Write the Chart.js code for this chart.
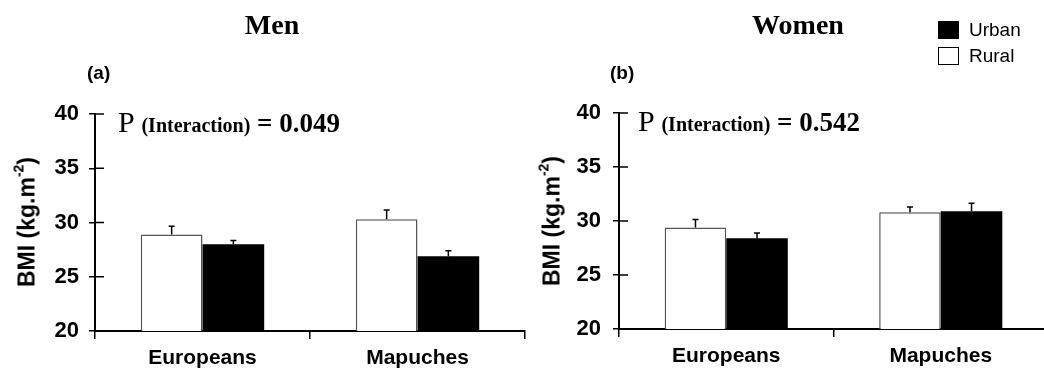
<!DOCTYPE html>
<html lang="en">
<head>
<meta charset="UTF-8">
<title>BMI by origin and residence</title>
<script src="https://cdn.jsdelivr.net/npm/chart.js"></script>
<style>
    body{margin:0;width:1044px;height:372px;overflow:hidden;background:#fff;position:relative;color:#000;font-family:'Liberation Sans',Arial,sans-serif;}
    .panel{position:absolute;top:0;width:530px;height:372px;}
    #panel-men{left:0}
    #panel-women{left:520px}
    .title{position:absolute;top:11px;font-family:'Liberation Serif','Times New Roman',serif;font-weight:bold;font-size:28px;line-height:28px;transform:translateX(-50%);white-space:nowrap}
    .letter{position:absolute;top:63px;font-weight:bold;font-size:19px;line-height:19px}
    .ptext{position:absolute;font-family:'Liberation Serif','Times New Roman',serif;font-weight:bold;font-size:27px;line-height:30px;white-space:nowrap}
    .ptext .p{font-weight:normal;font-size:30px}
    .ptext .small{font-size:20px}
    .ylabel{position:absolute;font-weight:bold;font-size:23px;line-height:23px;white-space:nowrap;transform:translate(-50%,-50%) rotate(-90deg)}
    .ylabel sup{font-size:14px;line-height:0;position:relative;top:-2px}
    .legend{position:absolute;left:938px;top:21px;font-size:19px}
    .legend .row{position:relative;height:26px}
    .legend .box{position:absolute;left:0;top:0;width:19px;height:16px;border:1px solid #000}
    .legend .label{position:absolute;left:31px;top:-1px;line-height:19px}
</style>
</head>
<body>
    <div class="panel" id="panel-men"><canvas id="chart-men" width="530" height="372"></canvas></div>
    <div class="panel" id="panel-women"><canvas id="chart-women" width="530" height="372"></canvas></div>

    <div class="title" style="left:272px">Men</div>
    <div class="title" style="left:798px">Women</div>
    <div class="letter" style="left:87px">(a)</div>
    <div class="letter" style="left:610px">(b)</div>
    <div class="ptext" style="left:118px;top:107px"><span class="p">P</span> <span class="small">(Interaction)</span> = 0.049</div>
    <div class="ptext" style="left:638px;top:106px"><span class="p">P</span> <span class="small">(Interaction)</span> = 0.542</div>
    <div class="ylabel" style="left:27px;top:222px">BMI (kg.m<sup>-2</sup>)</div>
    <div class="ylabel" style="left:552px;top:221px">BMI (kg.m<sup>-2</sup>)</div>

    <div class="legend">
        <div class="row"><span class="box" style="background:#000"></span><span class="label">Urban</span></div>
        <div class="row"><span class="box" style="background:#fff"></span><span class="label">Rural</span></div>
    </div>

    <script>
        // groups on the x axis
        const groups = ['Europeans', 'Mapuches'];

        // men: mean BMI and standard error
        const menRural = [28.9, 30.3];
        const menRuralSE = [0.75, 0.85];
        const menUrban = [28.0, 26.9];
        const menUrbanSE = [0.35, 0.5];

        // women
        const womenRural = [29.4, 30.8];
        const womenRuralSE = [0.75, 0.5];
        const womenUrban = [28.4, 30.9];
        const womenUrbanSE = [0.5, 0.75];

        // y axis
        const yMin = 20;
        const yMax = 40;
        const yStep = 5;

        const xFont = { family: "'Liberation Sans', Arial, sans-serif", size: 21, weight: 'bold' };
        const yFont = { family: "'Liberation Sans', Arial, sans-serif", size: 22, weight: 'bold' };

        // upward error bars with a small cap, plus the part of the y ticks inside the plot
        const errorBars = {
            id: 'errorBars',
            afterDatasetsDraw(chart) {
                const ctx = chart.ctx;
                const y = chart.scales.y;
                ctx.save();
                ctx.strokeStyle = '#000';
                ctx.lineWidth = 1.5;
                chart.data.datasets.forEach((ds, i) => {
                    chart.getDatasetMeta(i).data.forEach((bar, j) => {
                        const top = y.getPixelForValue(ds.data[j] + ds.errors[j]);
                        ctx.beginPath();
                        ctx.moveTo(bar.x, bar.y);
                        ctx.lineTo(bar.x, top);
                        ctx.moveTo(bar.x - 3, top);
                        ctx.lineTo(bar.x + 3, top);
                        ctx.stroke();
                    });
                });
                y.ticks.forEach(t => {
                    const py = y.getPixelForValue(t.value);
                    ctx.beginPath();
                    ctx.moveTo(chart.chartArea.left, py);
                    ctx.lineTo(chart.chartArea.left + 9, py);
                    ctx.stroke();
                });
                ctx.restore();
            }
        };

        function makePanel(canvasId, rural, ruralSE, urban, urbanSE, geo) {
            return new Chart(document.getElementById(canvasId), {
                type: 'bar',
                data: {
                    labels: groups,
                    datasets: [
                        { label: 'Rural', data: rural, errors: ruralSE, backgroundColor: '#fff', borderColor: '#555', borderWidth: 1.5 },
                        { label: 'Urban', data: urban, errors: urbanSE, backgroundColor: '#000', borderColor: '#000', borderWidth: 0 }
                    ]
                },
                options: {
                    responsive: false,
                    animation: false,
                    devicePixelRatio: 1,
                    categoryPercentage: 0.574,
                    barPercentage: 1,
                    layout: { padding: { top: geo.top, right: geo.right, left: 0, bottom: 0 } },
                    plugins: { legend: { display: false }, title: { display: false }, tooltip: { enabled: false } },
                    scales: {
                        x: {
                            grid: { offset: true, drawOnChartArea: false, tickLength: 8, color: '#000', lineWidth: 1.5 },
                            border: { color: '#000', width: 2 },
                            ticks: { color: '#000', font: xFont, padding: 7 },
                            afterFit: s => { s.height = geo.bottomH; }
                        },
                        y: {
                            min: yMin, max: yMax,
                            grid: { drawOnChartArea: false, tickLength: 6, color: '#000', lineWidth: 1.5 },
                            border: { color: '#000', width: 2 },
                            ticks: { stepSize: yStep, color: '#000', font: yFont, padding: geo.tickPad },
                            afterFit: s => { s.width = geo.left; }
                        }
                    }
                },
                plugins: [errorBars]
            });
        }

        makePanel('chart-men', menRural, menRuralSE, menUrban, menUrbanSE, { top: 114, right: 5, bottomH: 41, left: 95, tickPad: 10 });
        makePanel('chart-women', womenRural, womenRuralSE, womenUrban, womenUrbanSE, { top: 113, right: 2, bottomH: 43, left: 99, tickPad: 12 });
    </script>
</body>
</html>
